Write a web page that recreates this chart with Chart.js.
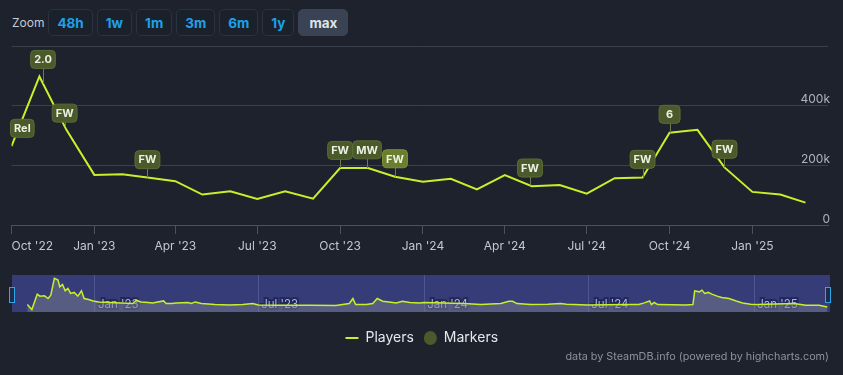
<!DOCTYPE html>
<html>
<head>
<meta charset="utf-8">
<script src="https://cdn.jsdelivr.net/npm/chart.js@4.4.1/dist/chart.umd.min.js"></script>
<style>
  html, body { margin: 0; padding: 0; background: #1d222d; }
  body { width: 843px; height: 375px; position: relative; overflow: hidden; font-family: Inter, "Noto Sans", sans-serif; }
  #main { position: absolute; left: 0; top: 0; }
  #nav { position: absolute; left: 12px; top: 275px; background: #363c78; }
  .zoom { position: absolute; left: 12px; top: 9px; display: flex; align-items: center; }
  .zoom span { color: #c6cad2; font-size: 12px; margin-right: 4px; }
  .zoom button {
    height: 27px; margin-right: 4px; padding: 0 8px; border-radius: 5px;
    border: 1px solid #2b3341; background: #1b212b; color: #1ea0e8;
    font: 700 13.5px Inter, sans-serif;
  }
  .zoom button.on { background: #3a4354; border-color: #3a4354; color: #dfe2e7; padding: 0 10px; }
  .handle { position: absolute; top: 287px; width: 4px; height: 14px; background: #1f2d4a; border: 1px solid #2ea6ea; }
  .credits { position: absolute; right: 14px; top: 350px; font-size: 10.8px; color: #8d929b; }
</style>
</head>
<body>
<div class="zoom">
  <span>Zoom</span>
  <button>48h</button><button>1w</button><button>1m</button><button>3m</button><button>6m</button><button>1y</button><button class="on">max</button>
</div>
<canvas id="main" width="843" height="375"></canvas>
<canvas id="nav" width="818" height="37"></canvas>
<div class="handle" style="left:9px"></div>
<div class="handle" style="left:825px"></div>
<div class="credits">data by SteamDB.info (powered by highcharts.com)</div>
<script>
// Monthly average players (main chart)
const months = ['2022-10', '2022-11', '2022-12', '2023-01', '2023-02', '2023-03', '2023-04', '2023-05',
  '2023-06', '2023-07', '2023-08', '2023-09', '2023-10', '2023-11', '2023-12', '2024-01', '2024-02',
  '2024-03', '2024-04', '2024-05', '2024-06', '2024-07', '2024-08', '2024-09', '2024-10', '2024-11',
  '2024-12', '2025-01', '2025-02', '2025-03'];
const players = [264000, 498000, 319000, 168000, 170000, 159000, 147000, 102000, 113000, 87000,
  113000, 88000, 191000, 191000, 162000, 145000, 155000, 119000, 167000, 130000, 134000, 105000,
  157000, 159000, 309000, 319000, 193000, 111000, 102000, 75000];

// Flag markers
const markerDates = ['2022-10-13', '2022-11-05', '2022-11-29', '2023-03-01', '2023-10-01', '2023-10-31',
  '2023-12-01', '2024-04-29', '2024-09-01', '2024-10-01', '2024-12-01'];
const markerLabels = ['Rel', '2.0', 'FW', 'FW', 'FW', 'MW', 'FW', 'FW', 'FW', '6', 'FW'];
const markerValues = [324000, 555000, 375000, 219000, 250000, 252000, 222000, 191000, 220000, 371000, 254000];

// Axis range and ticks
const xStart = '2022-10-01';
const xEnd = '2025-03-26';
const tickDates = ['2022-10-01', '2023-01-01', '2023-04-01', '2023-07-01', '2023-10-01', '2024-01-01',
  '2024-04-01', '2024-07-01', '2024-10-01', '2025-01-01'];
const tickLabels = ["Oct '22", "Jan '23", "Apr '23", "Jul '23", "Oct '23", "Jan '24", "Apr '24", "Jul '24", "Oct '24", "Jan '25"];
const yTickLabels = ['0', '200k', '400k', ''];

// Navigator (finer grained series)
const navDates = ['2022-10-18', '2022-10-23', '2022-10-29', '2022-11-01', '2022-11-06', '2022-11-10',
  '2022-11-13', '2022-11-17', '2022-11-21', '2022-11-23', '2022-11-26', '2022-11-29', '2022-12-02',
  '2022-12-05', '2022-12-09', '2022-12-13', '2022-12-17', '2022-12-20', '2022-12-25', '2022-12-30',
  '2023-01-05', '2023-01-23', '2023-02-12', '2023-02-16', '2023-02-21', '2023-03-01', '2023-03-06',
  '2023-03-18', '2023-03-21', '2023-03-27', '2023-04-01', '2023-04-14', '2023-04-18', '2023-04-22',
  '2023-04-29', '2023-05-14', '2023-05-30', '2023-06-14', '2023-06-25', '2023-07-01', '2023-07-21',
  '2023-08-12', '2023-08-27', '2023-09-25', '2023-10-10', '2023-10-14', '2023-10-17', '2023-10-29',
  '2023-11-05', '2023-11-10', '2023-11-16', '2023-11-23', '2023-12-01', '2023-12-08', '2023-12-16',
  '2023-12-27', '2024-01-01', '2024-02-14', '2024-03-04', '2024-03-26', '2024-04-04', '2024-04-08',
  '2024-04-13', '2024-04-28', '2024-05-17', '2024-05-31', '2024-06-07', '2024-06-30', '2024-08-12',
  '2024-08-26', '2024-09-01', '2024-09-07', '2024-09-09', '2024-09-12', '2024-09-16', '2024-10-17',
  '2024-10-25', '2024-10-27', '2024-11-01', '2024-11-04', '2024-11-07', '2024-11-11', '2024-11-15',
  '2024-11-21', '2024-11-26', '2024-12-04', '2024-12-12', '2024-12-19', '2024-12-28', '2025-01-03',
  '2025-02-14', '2025-02-27', '2025-03-14', '2025-03-23'];
const navPlayers = [128000, 42000, 306000, 272000, 277000, 232000, 289000, 578000, 548000, 433000,
  474000, 363000, 405000, 318000, 336000, 272000, 363000, 232000, 215000, 190000, 173000, 159000,
  145000, 202000, 173000, 163000, 156000, 190000, 145000, 145000, 156000, 163000, 145000, 173000,
  145000, 128000, 121000, 128000, 145000, 121000, 116000, 116000, 116000, 111000, 145000, 232000,
  128000, 128000, 145000, 232000, 185000, 173000, 156000, 185000, 163000, 156000, 163000, 145000,
  128000, 145000, 185000, 185000, 145000, 128000, 133000, 145000, 133000, 121000, 128000, 128000,
  156000, 190000, 128000, 163000, 128000, 121000, 128000, 363000, 346000, 375000, 318000, 336000,
  306000, 272000, 249000, 232000, 190000, 156000, 133000, 128000, 145000, 116000, 116000, 87000];
const navTickDates = ['2023-01-01', '2023-07-01', '2024-01-01', '2024-07-01', '2025-01-01'];
const navTickLabels = ["Jan '23", "Jul '23", "Jan '24", "Jul '24", "Jan '25"];

const LIME = '#c8f02a';
const OLIVE = '#4a5a2b';
const OLIVE_HI = '#6a7e2d';

function toTime(s) {
  const p = s.split('-').map(Number);
  return Date.UTC(p[0], p[1] - 1, p[2] || 1);
}

Chart.defaults.font.family = 'Inter, "Noto Sans", sans-serif';

// Draws the Highcharts-style flag boxes with a stem down to the players line
const flagPlugin = {
  id: 'flags',
  afterDatasetsDraw(chart) {
    const ctx = chart.ctx;
    const line = chart.getDatasetMeta(0).data;
    const flags = chart.getDatasetMeta(1).data;
    ctx.save();
    ctx.font = 'bold 11px Inter, sans-serif';
    ctx.textAlign = 'center';
    ctx.textBaseline = 'middle';
    flags.forEach((pt, i) => {
      const text = markerLabels[i];
      const w = Math.max(21, ctx.measureText(text).width + 7);
      const h = 18;
      const x = pt.x, y = pt.y;

      let ly = null;
      for (let k = 0; k < line.length - 1; k++) {
        if (line[k].x <= x && line[k + 1].x >= x) {
          const t = (x - line[k].x) / (line[k + 1].x - line[k].x);
          ly = line[k].y + t * (line[k + 1].y - line[k].y);
        }
      }
      if (ly !== null && ly > y + h / 2) {
        ctx.strokeStyle = '#6c7b47';
        ctx.lineWidth = 1;
        ctx.beginPath();
        ctx.moveTo(Math.round(x) + 0.5, y + h / 2);
        ctx.lineTo(Math.round(x) + 0.5, ly);
        ctx.stroke();
      }

      ctx.fillStyle = i === 6 ? OLIVE_HI : OLIVE;
      ctx.strokeStyle = i === 6 ? '#7d9236' : '#5b6c37';
      ctx.beginPath();
      ctx.roundRect(x - w / 2, y - h / 2, w, h, 4);
      ctx.fill();
      ctx.stroke();
      ctx.fillStyle = '#eef0e4';
      ctx.fillText(text, x, y + 0.5);
    });
    ctx.restore();
  }
};

new Chart(document.getElementById('main'), {
  type: 'line',
  data: {
    datasets: [{
      label: 'Players',
      data: months.map((m, i) => ({ x: toTime(m), y: players[i] })),
      borderColor: LIME,
      backgroundColor: LIME,
      borderWidth: 2,
      pointRadius: 0,
      tension: 0
    }, {
      label: 'Markers',
      type: 'scatter',
      data: markerDates.map((d, i) => ({ x: toTime(d), y: markerValues[i] })),
      pointRadius: 0,
      backgroundColor: OLIVE,
      borderColor: OLIVE
    }]
  },
  options: {
    responsive: false,
    animation: false,
    layout: { padding: { top: 46, left: 11.5, right: 11, bottom: 20 } },
    plugins: {
      tooltip: { enabled: false },
      legend: {
        position: 'bottom',
        labels: {
          usePointStyle: true,
          pointStyleWidth: 13,
          boxHeight: 10,
          padding: 10,
          color: '#e4e7ec',
          font: { size: 14 },
          generateLabels: () => [
            { text: 'Players', pointStyle: 'line', strokeStyle: LIME, fillStyle: LIME, lineWidth: 2, datasetIndex: 0, fontColor: '#e4e7ec' },
            { text: 'Markers', pointStyle: 'circle', strokeStyle: OLIVE, fillStyle: OLIVE, lineWidth: 0, datasetIndex: 1, fontColor: '#e4e7ec' }
          ]
        }
      }
    },
    scales: {
      x: {
        type: 'linear',
        min: toTime(xStart),
        max: toTime(xEnd),
        afterBuildTicks: scale => {
          scale.ticks = tickDates.map(d => ({ value: toTime(d) })).concat([{ value: toTime(xEnd) }]);
        },
        afterFit: scale => { scale.height = 96; },
        ticks: {
          align: 'inner',
          autoSkip: false,
          maxRotation: 0,
          padding: 5,
          color: '#c3c8d0',
          font: { size: 12 },
          callback: (v, i) => tickLabels[i] || ''
        },
        grid: {
          drawOnChartArea: false,
          tickLength: 9,
          tickColor: ctx => ctx.index < tickLabels.length ? '#4b5160' : 'rgba(0,0,0,0)'
        },
        border: { color: '#4b5160' }
      },
      y: {
        position: 'right',
        min: 0,
        max: 600000,
        ticks: {
          stepSize: 200000,
          mirror: true,
          padding: 2,
          labelOffset: -6,
          color: '#aeb3bc',
          font: { size: 12 },
          callback: (v, i) => yTickLabels[i]
        },
        grid: { color: '#3a404c', drawTicks: false },
        border: { display: false }
      }
    }
  },
  plugins: [flagPlugin]
});

new Chart(document.getElementById('nav'), {
  type: 'line',
  data: {
    datasets: [{
      data: navDates.map((d, i) => ({ x: toTime(d), y: navPlayers[i] })),
      borderColor: LIME,
      borderWidth: 1.5,
      pointRadius: 0,
      tension: 0,
      fill: 'origin',
      backgroundColor: 'rgba(120,126,140,0.5)'
    }]
  },
  options: {
    responsive: false,
    animation: false,
    layout: { padding: 0 },
    plugins: { legend: { display: false }, tooltip: { enabled: false } },
    scales: {
      x: {
        type: 'linear',
        z: 1,
        min: toTime(xStart),
        max: toTime(xEnd),
        afterBuildTicks: scale => {
          scale.ticks = navTickDates.map(d => ({ value: toTime(d) }));
        },
        afterFit: scale => { scale.height = 0; },
        ticks: {
          mirror: true,
          align: 'start',
          labelOffset: 3,
          padding: 1,
          autoSkip: false,
          maxRotation: 0,
          color: '#aeb2e8',
          textStrokeColor: '#23285a',
          textStrokeWidth: 4,
          font: { size: 11.5 },
          callback: (v, i) => navTickLabels[i]
        },
        grid: { color: 'rgba(150,160,220,0.25)', drawTicks: false },
        border: { display: false }
      },
      y: { display: false, min: 0, max: 635000 }
    }
  }
});
</script>
</body>
</html>
